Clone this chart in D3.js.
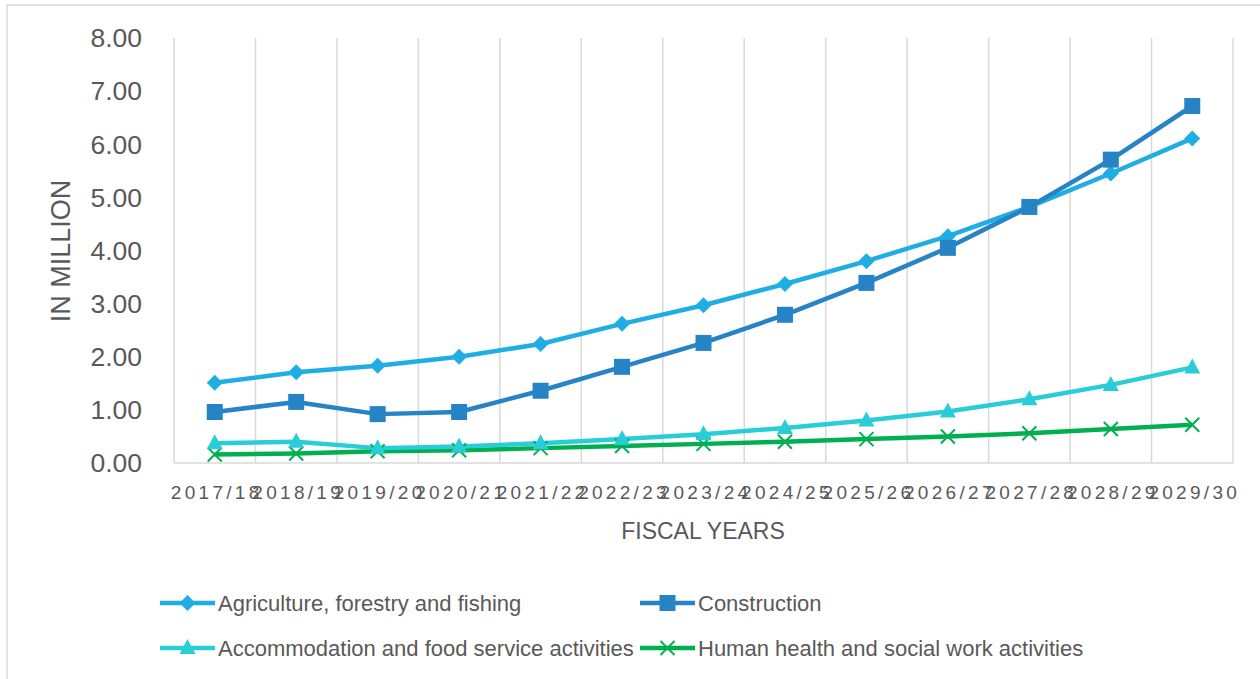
<!DOCTYPE html>
<html><head><meta charset="utf-8">
<script src="https://cdn.jsdelivr.net/npm/d3@7"></script>
<style>body{margin:0;background:#fff}svg{display:block}text{font-family:"Liberation Sans",Arial,sans-serif;fill:#595959}</style>
</head><body><svg id="c" width="1260" height="679"></svg>
<script>
const categories = ["2017/18","2018/19","2019/20","2020/21","2021/22","2022/23","2023/24","2024/25","2025/26","2026/27","2027/28","2028/29","2029/30"];
const agriculture = [1.51,1.71,1.83,2.00,2.24,2.62,2.97,3.37,3.80,4.27,4.82,5.45,6.11];
const construction = [0.96,1.15,0.92,0.96,1.36,1.81,2.26,2.79,3.39,4.05,4.82,5.71,6.72];
const accommodation = [0.37,0.40,0.28,0.31,0.37,0.45,0.54,0.66,0.80,0.97,1.20,1.47,1.80];
const health = [0.16,0.18,0.22,0.24,0.28,0.32,0.36,0.40,0.45,0.50,0.56,0.64,0.72];
const yTicks = [0,1,2,3,4,5,6,7,8];
const seriesNames = ["Agriculture, forestry and fishing","Construction","Accommodation and food service activities","Human health and social work activities"];

const series = [
  {name:seriesNames[0], values:agriculture, color:"#1FAEE3", marker:"diamond"},
  {name:seriesNames[1], values:construction, color:"#2683C6", marker:"square"},
  {name:seriesNames[2], values:accommodation, color:"#29CDD7", marker:"triangle"},
  {name:seriesNames[3], values:health, color:"#00B050", marker:"x"}
];

const svg = d3.select("#c");
svg.append("rect").attr("x",7).attr("y",5).attr("width",1270).attr("height",700).attr("fill","#fff").attr("stroke","#d9d9d9").attr("stroke-width",1.5);

const L=174, R=1233, T=38, B=463;
const x = d3.scaleBand().domain(categories).range([L,R]);
const y = d3.scaleLinear().domain([0,8]).range([B,T]);

const g = svg.append("g");
const edges = categories.map(c=>x(c)).concat([R]);
g.selectAll("line.grid").data(edges).join("line")
  .attr("x1",d=>d).attr("x2",d=>d).attr("y1",T).attr("y2",B)
  .attr("stroke","#d9d9d9").attr("stroke-width",1.5);
g.append("line").attr("x1",L).attr("x2",R).attr("y1",B).attr("y2",B).attr("stroke","#d9d9d9").attr("stroke-width",1.5);

svg.append("g").selectAll("text").data(yTicks).join("text")
  .attr("x",142).attr("y",d=>y(d)).attr("dy","0.35em").attr("text-anchor","end")
  .style("font-size","26.5px").text(d=>d.toFixed(2));

svg.append("g").selectAll("text").data(categories).join("text")
  .attr("x",d=>x(d)+x.bandwidth()/2+2).attr("y",499).attr("text-anchor","middle")
  .style("font-size","19px").style("letter-spacing","3.3px").text(d=>d);

svg.append("text").attr("x",703).attr("y",539).attr("text-anchor","middle").style("font-size","23px").text("FISCAL YEARS");
svg.append("text").attr("transform","translate(70,251) rotate(-90)").attr("text-anchor","middle").style("font-size","27px").text("IN MILLION");

function marker(sel, type, color){
  if(type==="diamond") sel.append("path").attr("d","M0,-8L8,0L0,8L-8,0Z").attr("fill",color);
  else if(type==="square") sel.append("rect").attr("x",-8).attr("y",-8).attr("width",16).attr("height",16).attr("fill",color);
  else if(type==="triangle") sel.append("path").attr("d","M0,-9L8,6L-8,6Z").attr("fill",color);
  else sel.append("path").attr("d","M-7,-7L7,7M-7,7L7,-7").attr("stroke",color).attr("stroke-width",2).attr("fill","none");
}

const line = d3.line().x((d,i)=>x(categories[i])+x.bandwidth()/2).y(d=>y(d));
const order = [3,2,0,1];
order.forEach(k=>{
  const s = series[k];
  svg.append("path").datum(s.values).attr("d",line).attr("fill","none").attr("stroke",s.color).attr("stroke-width",4.5).attr("stroke-linejoin","round");
});
order.forEach(k=>{
  const s = series[k];
  s.values.forEach((v,i)=>{
    const m = svg.append("g").attr("transform",`translate(${x(categories[i])+x.bandwidth()/2},${y(v)})`);
    marker(m, s.marker, s.color);
  });
});

const legPos = [[160,603],[640,603],[160,648],[640,648]];
series.forEach((s,k)=>{
  const [lx,ly] = legPos[k];
  const gg = svg.append("g");
  gg.append("line").attr("x1",lx).attr("x2",lx+55).attr("y1",ly).attr("y2",ly).attr("stroke",s.color).attr("stroke-width",4.5);
  const m = gg.append("g").attr("transform",`translate(${lx+27.5},${ly})`);
  marker(m, s.marker, s.color);
  gg.append("text").attr("x",lx+58).attr("y",ly).attr("dy","0.35em").style("font-size","22px").text(s.name);
});
</script></body></html>
